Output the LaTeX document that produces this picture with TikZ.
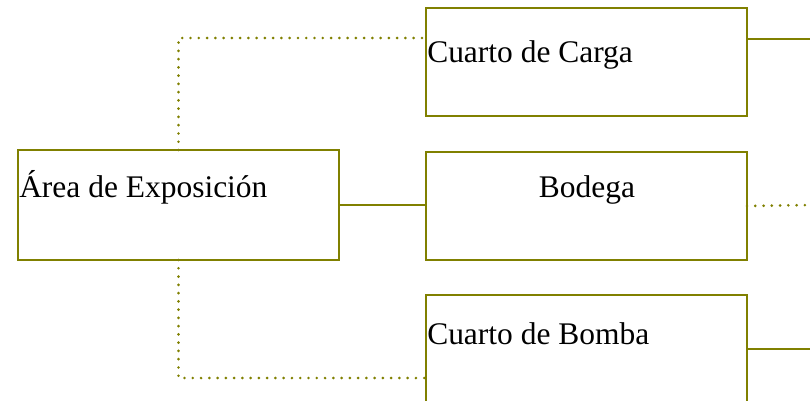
\documentclass[tikz,border=0pt]{standalone}
\usepackage{fontspec}
\setmainfont{Liberation Serif}
\usetikzlibrary{calc}
\definecolor{olivec}{HTML}{808000}
\begin{document}
\begin{tikzpicture}[x=0.75pt,y=-0.75pt,
  box/.style={draw=olivec,line width=2.2pt,minimum width=240.75pt,minimum height=81pt,inner sep=0pt,outer sep=0pt,fill=white},
  lbl/.style={font=\fontsize{23.6pt}{28pt}\selectfont,inner sep=0pt,text=black},
  solidcon/.style={draw=olivec,line width=1.8pt},
  dotcon/.style={draw=olivec,line width=2.2pt,line cap=round,dash pattern=on 0pt off 6.2pt}]
\useasboundingbox (0,0) rectangle (810,400);
\clip (0,0) rectangle (810,400);
% boxes
\node[box,anchor=north west,minimum height=82.5pt] (area) at (18,150) {};
\node[box,anchor=north west] (carga) at (426,8) {};
\node[box,anchor=north west] (bodega) at (426,152) {};
\node[box,anchor=north west] (bomba) at (426,295) {};
% labels
\node[lbl,anchor=base west] (tarea) at (19,197) {Área de Exposición};
\node[lbl,anchor=base west] (tcarga) at (427,62) {Cuarto de Carga};
\node[lbl,anchor=base] (tbodega) at (587,197) {Bodega};
\node[lbl,anchor=base west] (tbomba) at (427,344) {Cuarto de Bomba};
% free ends
\coordinate (e1) at (812,39);
\coordinate (e2) at (812,205);
\coordinate (e3) at (812,349);
% connectors
\draw[solidcon] (area.east) -- (area.east -| bodega.west);
\draw[dotcon] (area.north) |- ($(carga.north west)+(0,30)$);
\draw[dotcon] (area.south) |- ($(bomba.north west)+(0,83)$);
\draw[solidcon] ($(carga.north east)+(0,31)$) -- (e1);
\draw[dotcon] (bodega.east) -- (e2);
\draw[solidcon] (bomba.east) -- (e3);
\end{tikzpicture}
\end{document}
